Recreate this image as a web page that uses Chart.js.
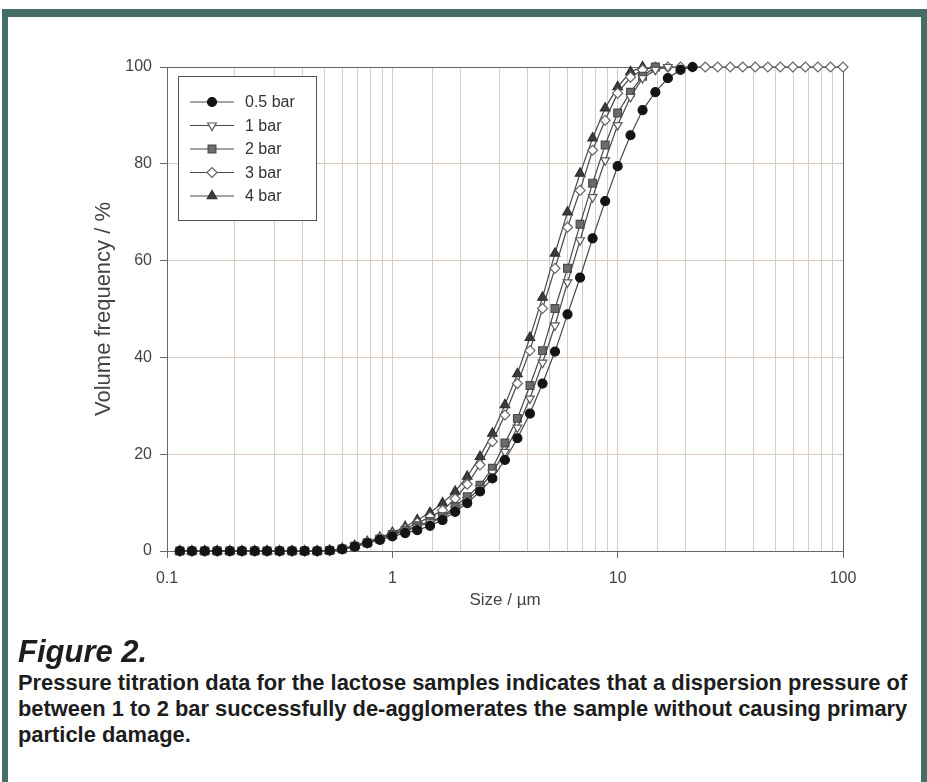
<!DOCTYPE html>
<html>
<head>
<meta charset="utf-8">
<script src="https://cdn.jsdelivr.net/npm/chart.js@4/dist/chart.umd.min.js"></script>
<style>
  html, body { margin: 0; padding: 0; background: #fff; }
  body { width: 927px; height: 782px; position: relative; overflow: hidden; font-family: "Liberation Sans", Arial, sans-serif; }
  .band { position: absolute; background: #476d69; }
  #chart { position: absolute; left: 0; top: 0; }
  .fig-title { position: absolute; left: 18px; top: 634px; font-size: 31px; line-height: 36px; font-weight: bold; font-style: italic; color: #1d1d1d; }
  .caption { position: absolute; left: 18px; top: 670px; width: 900px; font-size: 21.9px; line-height: 26px; font-weight: bold; color: #1d1d1d; }
</style>
</head>
<body>
<div class="band" style="left:2px; top:9px; width:925px; height:8px"></div>
<div class="band" style="left:2px; top:9px; width:6px; height:773px"></div>
<div class="band" style="left:921px; top:9px; width:6px; height:773px"></div>
<canvas id="chart" width="927" height="650"></canvas>
<div class="fig-title">Figure 2.</div>
<div class="caption">Pressure titration data for the lactose samples indicates that a dispersion pressure of between 1 to 2 bar successfully de-agglomerates the sample without causing primary particle damage.</div>
<script>
// particle size classes, µm
const sizes = [0.114, 0.129, 0.147, 0.167, 0.190, 0.215, 0.245, 0.278, 0.316, 0.359,
  0.408, 0.464, 0.527, 0.599, 0.681, 0.774, 0.880, 1.00, 1.14, 1.29,
  1.47, 1.67, 1.90, 2.15, 2.45, 2.78, 3.16, 3.59, 4.08, 4.64,
  5.27, 5.99, 6.81, 7.74, 8.80, 10.0, 11.4, 12.9, 14.7, 16.7,
  19.0, 21.5, 24.5, 27.8, 31.6, 35.9, 40.8, 46.4, 52.7, 59.9,
  68.1, 77.4, 88.0, 100];

// cumulative volume frequency, %
const bar05 = [0, 0, 0, 0, 0, 0, 0, 0, 0, 0, 0, 0, 0.1, 0.4, 0.9, 1.6, 2.3, 3.0, 3.7, 4.3,
  5.2, 6.4, 8.1, 9.9, 12.3, 15.0, 18.8, 23.3, 28.4, 34.6, 41.2, 48.9, 56.5, 64.6, 72.3, 79.5,
  85.9, 91.1, 94.8, 97.7, 99.4, 100];
const bar1 = [0, 0, 0, 0, 0, 0, 0, 0, 0, 0, 0, 0, 0.1, 0.4, 1.0, 1.7, 2.5, 3.3, 4.1, 5.0,
  5.9, 6.9, 8.6, 10.5, 13.0, 16.2, 20.5, 25.5, 31.5, 38.9, 46.6, 55.5, 64.2, 73.1, 80.7, 88.0,
  93.8, 97.7, 99.4, 100];
const bar2 = [0, 0, 0, 0, 0, 0, 0, 0, 0, 0, 0, 0, 0.1, 0.4, 1.0, 1.7, 2.5, 3.4, 4.3, 5.2,
  6.1, 7.1, 9.2, 11.2, 13.6, 17.1, 22.3, 27.4, 34.2, 41.4, 50.1, 58.4, 67.5, 76.0, 83.9, 90.5,
  94.8, 98.1, 100];
const bar3 = [0, 0, 0, 0, 0, 0, 0, 0, 0, 0, 0, 0, 0.1, 0.5, 1.0, 1.8, 2.7, 3.6, 4.6, 5.8,
  7.0, 8.4, 10.8, 13.8, 17.8, 22.6, 28.1, 34.6, 41.4, 50.1, 58.4, 66.9, 74.5, 82.8, 89.0, 94.6,
  97.9, 99.4, 100, 100, 100, 100, 100, 100, 100, 100, 100, 100, 100, 100, 100, 100, 100, 100];
const bar4 = [0, 0, 0, 0, 0, 0, 0, 0, 0, 0, 0, 0, 0.1, 0.5, 1.1, 1.9, 2.8, 3.8, 5.0, 6.4,
  7.9, 9.9, 12.3, 15.4, 19.5, 24.3, 30.2, 36.6, 44.1, 52.4, 61.5, 70.0, 78.0, 85.3, 91.5, 95.9,
  99.0, 100];

const seriesNames = ['0.5 bar', '1 bar', '2 bar', '3 bar', '4 bar'];
const yTicks = [0, 20, 40, 60, 80, 100];
const xTickLabels = ['0.1', '1', '10', '100'];

const styles = [
  { pointStyle: 'circle', rotation: 0, radius: 4.5, bg: '#141414', border: '#141414' },
  { pointStyle: 'triangle', rotation: 180, radius: 5, bg: '#ffffff', border: '#5a5a5a' },
  { pointStyle: 'rect', rotation: 0, radius: 5.5, bg: '#6c6c6c', border: '#4a4a4a' },
  { pointStyle: 'rectRot', rotation: 0, radius: 5, bg: '#ffffff', border: '#666666' },
  { pointStyle: 'triangle', rotation: 0, radius: 5.5, bg: '#3c3c3c', border: '#2e2e2e' }
];

const datasets = [bar05, bar1, bar2, bar3, bar4].map(function(values, i){
  const s = styles[i]
  return {
    label: seriesNames[i],
    data: values.map(function(v, j){ return { x: sizes[j], y: v } }),
    borderColor: '#484848',
    borderWidth: 1.2,
    pointStyle: s.pointStyle,
    pointRotation: s.rotation,
    pointRadius: s.radius,
    pointBackgroundColor: s.bg,
    pointBorderColor: s.border,
    pointBorderWidth: 1.2,
    tension: 0,
    clip: false
  }
})

// box round the plot area
const frame = {
  id: 'frame',
  beforeDatasetsDraw(chart) {
    const a = chart.chartArea
    const ctx = chart.ctx
    ctx.save()
    ctx.strokeStyle = '#666'
    ctx.lineWidth = 1
    ctx.strokeRect(Math.round(a.left) + 0.5, Math.round(a.top) + 0.5, Math.round(a.right - a.left), Math.round(a.bottom - a.top))
    ctx.restore()
  }
}

// legend box in the upper left corner
const insetLegend = {
  id: 'insetLegend',
  afterDatasetsDraw(chart) {
    const ctx = chart.ctx
    const x0 = 178, y0 = 76, w = 138, h = 144
    ctx.save()
    ctx.fillStyle = '#fff'
    ctx.fillRect(x0, y0, w, h)
    ctx.strokeStyle = '#555'
    ctx.lineWidth = 1
    ctx.strokeRect(x0 + 0.5, y0 + 0.5, w, h)
    chart.data.datasets.forEach(function(ds, i){
      const y = 102 + i * 23.5
      ctx.strokeStyle = ds.borderColor
      ctx.lineWidth = ds.borderWidth
      ctx.beginPath()
      ctx.moveTo(190, y)
      ctx.lineTo(234, y)
      ctx.stroke()
      ctx.fillStyle = ds.pointBackgroundColor
      ctx.strokeStyle = ds.pointBorderColor
      Chart.helpers.drawPoint(ctx, { pointStyle: ds.pointStyle, radius: ds.pointRadius, rotation: ds.pointRotation, borderWidth: 1.2 }, 212, y)
      ctx.fillStyle = '#333'
      ctx.font = '16px "Liberation Sans", Arial, sans-serif'
      ctx.textBaseline = 'middle'
      ctx.textAlign = 'left'
      ctx.fillText(ds.label, 245, y + 1)
    })
    ctx.restore()
  }
}

new Chart(document.getElementById('chart'), {
  type: 'line',
  data: { datasets: datasets },
  plugins: [frame, insetLegend],
  options: {
    responsive: false,
    animation: false,
    layout: { padding: { left: 87, right: 84, top: 67, bottom: 35 } },
    plugins: { legend: { display: false }, tooltip: { enabled: false } },
    scales: {
      x: {
        type: 'logarithmic',
        min: 0.1,
        max: 100,
        afterFit: function(scale){ scale.height = 64 },
        grid: {
          color: '#dacbc5',
          lineWidth: 1,
          tickLength: 7,
          tickColor: function(ctx){
            const v = ctx.tick && ctx.tick.value
            return xTickLabels.indexOf(String(v)) >= 0 ? '#666' : 'rgba(0,0,0,0)'
          }
        },
        border: { color: '#666', width: 1 },
        ticks: {
          autoSkip: false,
          maxRotation: 0,
          padding: 11,
          color: '#444',
          font: { family: '"Liberation Sans", Arial, sans-serif', size: 16 },
          callback: function(value){
            const s = String(value)
            return xTickLabels.indexOf(s) >= 0 ? s : ''
          }
        },
        title: {
          display: true,
          text: 'Size / µm',
          color: '#444',
          font: { family: '"Liberation Sans", Arial, sans-serif', size: 17 }
        }
      },
      y: {
        min: 0,
        max: 100,
        afterFit: function(scale){ scale.width = 80 },
        afterBuildTicks: function(scale){ scale.ticks = yTicks.map(function(v){ return { value: v } }) },
        grid: { color: '#dacbc5', lineWidth: 1, tickLength: 7, tickColor: '#666' },
        border: { color: '#666', width: 1 },
        ticks: {
          padding: 8,
          color: '#444',
          font: { family: '"Liberation Sans", Arial, sans-serif', size: 16 }
        },
        title: {
          display: true,
          text: 'Volume frequency / %',
          color: '#444',
          font: { family: '"Liberation Sans", Arial, sans-serif', size: 22 }
        }
      }
    }
  }
});
</script>
</body>
</html>
